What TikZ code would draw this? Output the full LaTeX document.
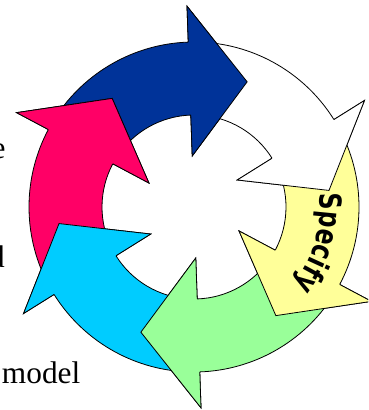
\documentclass[tikz,border=0pt]{standalone}
\usepackage{fontspec}
\setmainfont{Liberation Serif}
\setsansfont{DejaVu Sans}
\usetikzlibrary{decorations.text}

\definecolor{cycleblue}{HTML}{003399}
\definecolor{cyclewhite}{HTML}{FFFFFF}
\definecolor{cycleyellow}{HTML}{FFFF99}
\definecolor{cyclegreen}{HTML}{99FF99}
\definecolor{cyclecyan}{HTML}{00CCFF}
\definecolor{cyclepink}{HTML}{FF0066}

\tikzset{every picture/.style={line width=0.75pt}}
\tikzset{ring arrow/.style={draw=black, line width=0.6pt, miter limit=20}}

% whole arrow: body from angle #2+55 to #2, head from #2 to tip at #2-25
\newcommand{\ringarrow}[2]{%
  \draw[ring arrow, fill=#1] (#2+55:165) arc[start angle=#2+55, end angle=#2, radius=165]
    -- (#2:201) -- (#2-25:136) -- (#2:51) -- (#2:92)
    arc[start angle=#2, end angle=#2+55, radius=92] -- cycle;}
% head again, on top of the tail of the next arrow
\newcommand{\ringhead}[2]{%
  \fill[#1] (#2:201) -- (#2-25:136) -- (#2:51) -- cycle;
  \draw[ring arrow] (#2:165) -- (#2:201) -- (#2-25:136) -- (#2:51) -- (#2:92);}

\begin{document}
\begin{tikzpicture}[x=0.75pt,y=0.75pt,yscale=-1,xscale=1]
    \useasboundingbox (0,0) rectangle (368,410);
    \clip (0,0) rectangle (368,410);

    \begin{scope}[shift={(194,207)}, yscale=-1]
    %Shape: Circular Arrows
    \ringarrow{cycleblue}{92}
    \ringarrow{cyclewhite}{32}
    \ringarrow{cycleyellow}{-28}
    \ringarrow{cyclegreen}{-88}
    \ringarrow{cyclecyan}{-148}
    \ringarrow{cyclepink}{-208}

    %Shape: Arrow Heads
    \ringhead{cycleblue}{92}
    \ringhead{cyclewhite}{32}
    \ringhead{cycleyellow}{-28}
    \ringhead{cyclegreen}{-88}
    \ringhead{cyclecyan}{-148}
    \ringhead{cyclepink}{-208}

    % Text on yellow arrow
    \path[decorate, decoration={text effects along path, text={Specify}, text align=center,
        text effects/.cd, text along path,
        characters={font=\sffamily\bfseries\fontsize{17.5}{17.5}\selectfont, yscale=1.3, inner sep=0pt}}]
        (14:126) arc[start angle=14, end angle=-46, radius=126];
    \end{scope}

    % Text Node
    \node[anchor=base west, inner sep=0pt, font=\fontsize{23.5}{23.5}\selectfont] (txtE) at (-9,158) {e};
    % Text Node
    \node[anchor=base west, inner sep=0pt, font=\fontsize{23.5}{23.5}\selectfont] (txtD) at (-11.5,267) {d};
    % Text Node
    \node[anchor=base west, inner sep=0pt, font=\fontsize{23.5}{23.5}\selectfont] (model) at (1.5,383) {model};

\end{tikzpicture}
\end{document}
